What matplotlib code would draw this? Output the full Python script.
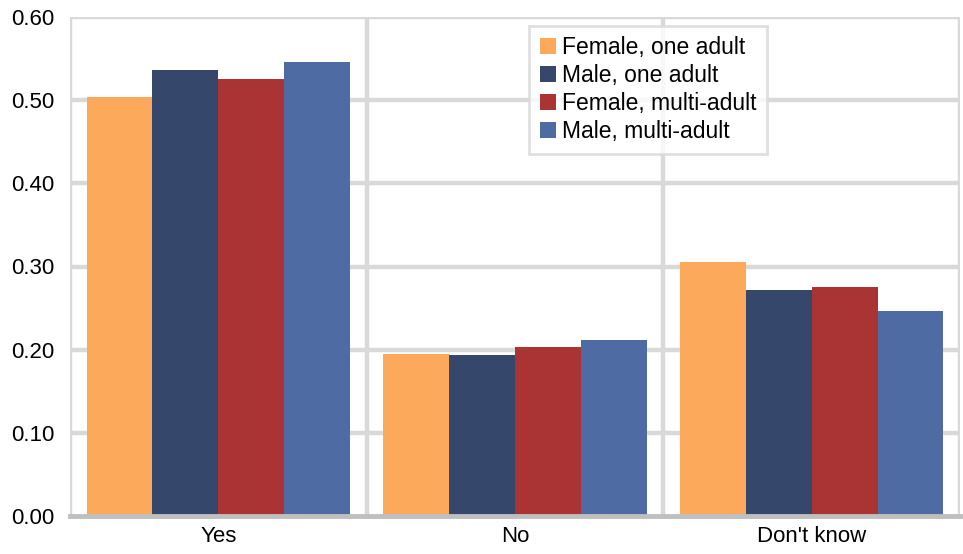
import numpy as np
import matplotlib
matplotlib.use("Agg")
import matplotlib.pyplot as plt

plt.rcParams['font.family'] = ['Liberation Sans', 'DejaVu Sans']

categories = ["Yes", "No", "Don't know"]
series_names = ["Female, one adult", "Male, one adult", "Female, multi-adult", "Male, multi-adult"]
female_one = [0.504, 0.195, 0.305]
male_one = [0.536, 0.194, 0.272]
female_multi = [0.525, 0.203, 0.275]
male_multi = [0.546, 0.212, 0.246]
colors = ["#FDA95B", "#35476A", "#AA3334", "#4E6CA3"]

series = [female_one, male_one, female_multi, male_multi]

fig = plt.figure(figsize=(9.63, 5.54), dpi=100)
ax = fig.add_axes([70 / 963, 38 / 554, 890 / 963, 499 / 554])

x = np.arange(len(categories))
width = 0.222
for i, (vals, name, c) in enumerate(zip(series, series_names, colors)):
    ax.bar(x + (i - 1.5) * width, vals, width, color=c, label=name, zorder=3)

grid_color = "#D9D9D9"
ax.set_ylim(0, 0.6)
ax.set_xlim(-0.5, 2.5)
ax.set_yticks(np.arange(0, 0.61, 0.1))
ax.set_yticklabels([f"{v:.2f}" for v in np.arange(0, 0.61, 0.1)])
for y in np.arange(0.1, 0.61, 0.1):
    ax.axhline(y, color=grid_color, lw=3.2, zorder=1)
for xv in [-0.5, 0.5, 1.5, 2.5]:
    ax.axvline(xv, color=grid_color, lw=3.2, zorder=1)

for s in ["top", "right", "left"]:
    ax.spines[s].set_visible(False)
ax.spines["bottom"].set_color("#BFBFBF")
ax.spines["bottom"].set_linewidth(3.5)
ax.spines["bottom"].set_zorder(4)

ax.set_xticks(x)
ax.set_xticklabels(categories)
ax.tick_params(axis="both", length=0, labelsize=16)
ax.tick_params(axis="y", pad=11)
ax.tick_params(axis="x", pad=7)

leg = ax.legend(loc="upper left", bbox_to_anchor=(0.516, 0.982), fontsize=16.5,
                frameon=True, fancybox=False, handlelength=0.7, handleheight=0.7,
                handletextpad=0.3, labelspacing=0.22, borderpad=0.45,
                borderaxespad=0)
leg.get_frame().set_edgecolor(grid_color)
leg.get_frame().set_linewidth(2)
leg.set_zorder(5)

fig.savefig("out.png", dpi=100)
